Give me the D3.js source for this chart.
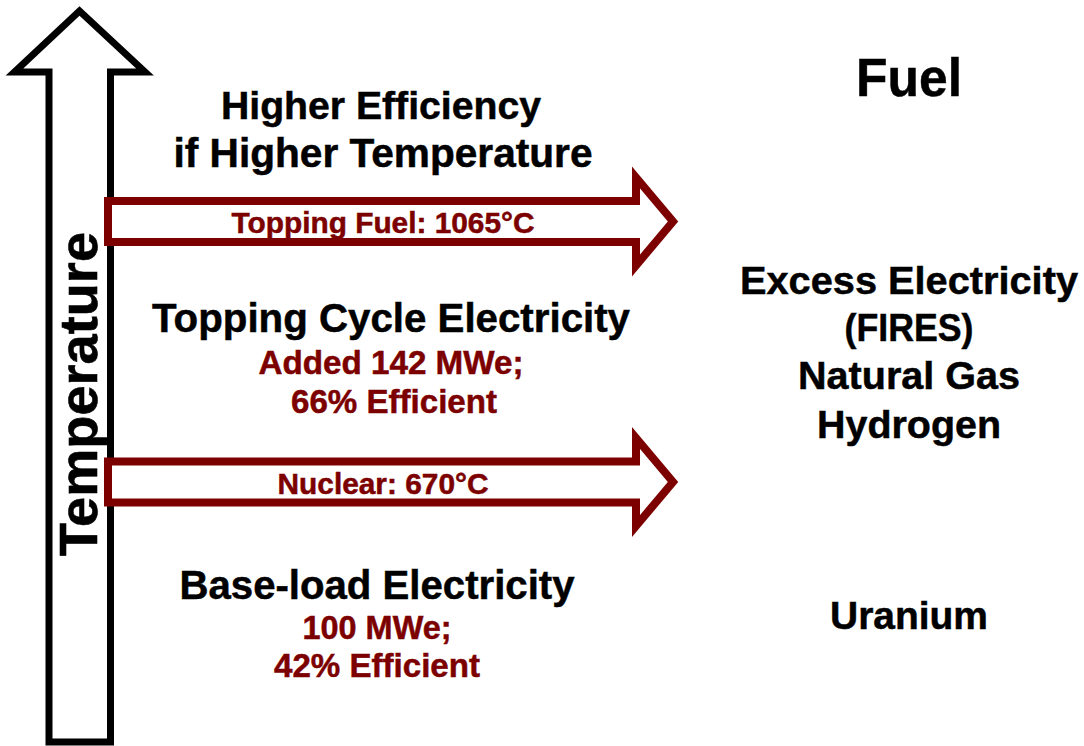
<!DOCTYPE html>
<html>
<head>
<meta charset="utf-8">
<script src="https://cdn.jsdelivr.net/npm/d3@7"></script>
<style>
  html, body { margin: 0; padding: 0; background: #fff; }
  svg { display: block; }
  text { font-family: "Liberation Sans", Arial, sans-serif; font-weight: bold; }
</style>
</head>
<body>
<svg id="chart" width="1084" height="746"></svg>
<script>
// ---- data ----
const axisLabel = "Temperature";
const fuelHeader = "Fuel";
const headline = ["Higher Efficiency", "if Higher Temperature"];
const streamNames = ["Topping Fuel", "Nuclear"];
const streamTemps = [1065, 670];            // °C
const cycleTitles = ["Topping Cycle Electricity", "Base-load Electricity"];
const cycleDetails = [["Added 142 MWe;", "66% Efficient"], ["100 MWe;", "42% Efficient"]];
const fuelLists = [["Excess Electricity", "(FIRES)", "Natural Gas", "Hydrogen"], ["Uranium"]];

// ---- layout / style ----
const W = 1084, H = 746;
const maroon = "#7c0000";
const svg = d3.select("#chart");

// temperature -> vertical position of the heat-input arrows
const yTemp = d3.scaleLinear().domain([670, 1065]).range([482, 221.5]);
// horizontal extent of heat arrows
const xArrow = d3.scaleLinear().domain([0, 1]).range([108, 636]);

// vertical temperature arrow
const vArrow = d3.path();
vArrow.moveTo(49, 742);
vArrow.lineTo(49, 72);
vArrow.lineTo(14.5, 72);
vArrow.lineTo(79.5, 11);
vArrow.lineTo(145, 72);
vArrow.lineTo(110.5, 72);
vArrow.lineTo(110.5, 742);
vArrow.closePath();
svg.append("path").attr("d", vArrow.toString())
  .attr("fill", "#fff").attr("stroke", "#000").attr("stroke-width", 7)
  .attr("stroke-linejoin", "miter").attr("stroke-miterlimit", 10);

// rotated axis label
svg.append("text")
  .attr("transform", "translate(97,394) rotate(-90)")
  .attr("text-anchor", "middle")
  .attr("font-size", 53)
  .attr("textLength", 324).attr("lengthAdjust", "spacingAndGlyphs")
  .attr("fill", "#000").attr("stroke", "#000").attr("stroke-width", 0.6)
  .text(axisLabel);

// horizontal heat arrows
const halfShaft = 20.5, halfHead = 44, tipLen = 37;
streamTemps.forEach((t, i) => {
  const yc = yTemp(t);
  const x0 = xArrow(0), x1 = xArrow(1);
  const p = d3.path();
  p.moveTo(x0, yc - halfShaft);
  p.lineTo(x1, yc - halfShaft);
  p.lineTo(x1, yc - halfHead);
  p.lineTo(x1 + tipLen, yc);
  p.lineTo(x1, yc + halfHead);
  p.lineTo(x1, yc + halfShaft);
  p.lineTo(x0, yc + halfShaft);
  p.closePath();
  svg.append("path").attr("d", p.toString())
    .attr("fill", "#fff").attr("stroke", maroon).attr("stroke-width", 8)
    .attr("stroke-linejoin", "miter").attr("stroke-miterlimit", 10);
});

// text helper
function label(txt, cx, cy, fs, width, color) {
  svg.append("text")
    .attr("x", cx).attr("y", cy + fs * 0.358)
    .attr("text-anchor", "middle")
    .attr("font-size", fs)
    .attr("textLength", width).attr("lengthAdjust", "spacingAndGlyphs")
    .attr("fill", color).attr("stroke", color).attr("stroke-width", 0.5)
    .text(txt);
}

// arrow labels
const arrowLabelX = [383, 383], arrowLabelW = [303, 211];
streamNames.forEach((n, i) => {
  label(`${n}: ${streamTemps[i]}°C`, arrowLabelX[i], yTemp(streamTemps[i]) + 1, 29.6, arrowLabelW[i], maroon);
});

// headline
label(headline[0], 381, 105, 39, 320, "#000");
label(headline[1], 383, 153, 40, 419, "#000");

// cycle blocks
const cycleLayout = [
  { x: 391, y: 318, w: 478, detail: [{ x: 391, y: 362, w: 265 }, { x: 394, y: 401, w: 206 }] },
  { x: 377, y: 585, w: 395, detail: [{ x: 377, y: 627, w: 149 }, { x: 377, y: 665, w: 206 }] }
];
cycleTitles.forEach((t, i) => {
  const L = cycleLayout[i];
  label(t, L.x, L.y, 40, L.w, "#000");
  cycleDetails[i].forEach((d, j) => label(d, L.detail[j].x, L.detail[j].y, 33.3, L.detail[j].w, maroon));
});

// fuel column
label(fuelHeader, 909, 77, 53, 106, "#000");
const fuelY = [[280, 327, 375, 424], [615]];
const fuelW = [[338, 129, 222, 184], [158]];
fuelLists.forEach((list, i) => {
  list.forEach((f, j) => label(f, 909, fuelY[i][j], 39.5, fuelW[i][j], "#000"));
});
</script>
</body>
</html>
